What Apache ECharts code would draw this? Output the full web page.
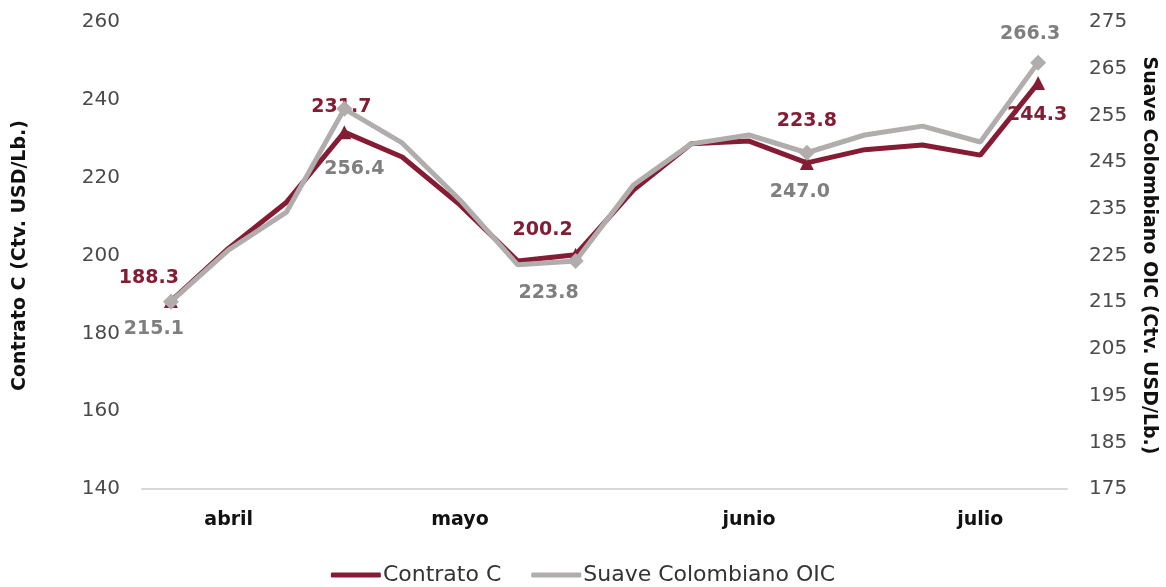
<!DOCTYPE html>
<html>
<head>
<meta charset="utf-8">
<script src="https://cdn.jsdelivr.net/npm/echarts@6/dist/echarts.min.js"></script>
<style>
  html, body { margin: 0; padding: 0; background: #fff; }
  #chart { width: 1166px; height: 587px; }
</style>
</head>
<body>
<div id="chart"></div>
<script>
// semanas (abril - julio)
var weeks = ['s1', 's2', 's3', 's4', 's5', 's6', 's7', 's8', 's9', 's10', 's11', 's12', 's13', 's14', 's15', 's16'];
var monthLabels = ['', 'abril', '', '', '', 'mayo', '', '', '', '', 'junio', '', '', '', 'julio', ''];
var contratoC = [188.3, 201.9, 213.7, 231.7, 225.3, 213.0, 198.6, 200.2, 216.8, 228.7, 229.4, 223.8, 227.2, 228.4, 225.8, 244.3];
var suaveOIC = [215.1, 226.2, 234.3, 256.4, 249.1, 236.9, 223.0, 223.8, 240.1, 248.9, 250.8, 247.0, 250.8, 252.7, 249.3, 266.3];
var leftTicks = [140, 160, 180, 200, 220, 240, 260];
var rightTicks = [175, 185, 195, 205, 215, 225, 235, 245, 255, 265, 275];

// puntos con etiqueta y su posicion
var labeled = [0, 3, 7, 11, 15];
var redLabelOffset = { 0: [-22, -1], 3: [-3, -4], 7: [-33, -3], 11: [0, -20], 15: [-1, 53] };
var grayLabelOffset = { 0: [-17, 50], 3: [10, 83], 7: [-27, 54], 11: [-7, 62], 15: [-8, -6] };

var RED = '#851C34';
var GRAY = '#B1ADAD';
var FONT = 'DejaVu Sans';

function buildData(values, offsets, color) {
  return values.map(function (v, i) {
    if (labeled.indexOf(i) < 0) return v;
    return {
      value: v,
      label: {
        show: true,
        position: 'top',
        offset: offsets[i],
        formatter: function (p) { return p.value.toFixed(1); },
        color: color,
        fontFamily: FONT,
        fontWeight: 'bold',
        fontSize: 19
      }
    };
  });
}

var chart = echarts.init(document.getElementById('chart'));
chart.setOption({
  animation: false,
  grid: { left: 142, right: 98, top: 22, bottom: 98 },
  legend: {
    top: 559,
    left: 'center',
    itemWidth: 50,
    itemHeight: 5,
    itemGap: 30,
    icon: 'roundRect',
    textStyle: { fontFamily: FONT, fontSize: 22, color: '#333', padding: [0, 0, 0, -3] },
    data: ['Contrato C', 'Suave Colombiano OIC']
  },
  xAxis: {
    type: 'category',
    data: weeks,
    axisLine: { lineStyle: { color: '#d9d9d9', width: 2 } },
    axisTick: { show: false },
    axisLabel: {
      interval: 0,
      margin: 22,
      color: '#111',
      fontFamily: FONT,
      fontWeight: 'bold',
      fontSize: 19,
      formatter: function (v, i) { return monthLabels[i]; }
    }
  },
  yAxis: [
    {
      type: 'value',
      min: leftTicks[0],
      max: leftTicks[leftTicks.length - 1],
      interval: 20,
      splitLine: { show: false },
      axisLine: { show: false },
      axisTick: { show: false },
      axisLabel: { margin: 22, color: '#4a4a4a', fontFamily: FONT, fontSize: 20 },
      name: 'Contrato C (Ctv. USD/Lb.)',
      nameLocation: 'middle',
      nameGap: 112,
      nameTextStyle: { color: '#111', fontFamily: FONT, fontWeight: 'bold', fontSize: 19 }
    },
    {
      type: 'value',
      min: rightTicks[0],
      max: rightTicks[rightTicks.length - 1],
      interval: 10,
      splitLine: { show: false },
      axisLine: { show: false },
      axisTick: { show: false },
      axisLabel: { margin: 22, color: '#4a4a4a', fontFamily: FONT, fontSize: 20 },
      name: 'Suave Colombiano OIC (Ctv. USD/Lb.)',
      nameLocation: 'middle',
      nameRotate: -90,
      nameGap: 72,
      nameTextStyle: { color: '#111', fontFamily: FONT, fontWeight: 'bold', fontSize: 19 }
    }
  ],
  series: [
    {
      name: 'Contrato C',
      type: 'line',
      yAxisIndex: 0,
      data: buildData(contratoC, redLabelOffset, RED),
      symbol: 'triangle',
      symbolSize: function (v, p) { return labeled.indexOf(p.dataIndex) >= 0 ? 14 : 0; },
      lineStyle: { color: RED, width: 5 },
      itemStyle: { color: RED },
      z: 2
    },
    {
      name: 'Suave Colombiano OIC',
      type: 'line',
      yAxisIndex: 1,
      data: buildData(suaveOIC, grayLabelOffset, '#7f7f7f'),
      symbol: 'diamond',
      symbolSize: function (v, p) { return labeled.indexOf(p.dataIndex) >= 0 ? 16 : 0; },
      lineStyle: { color: GRAY, width: 5 },
      itemStyle: { color: GRAY },
      z: 3
    }
  ]
});
</script>
</body>
</html>
